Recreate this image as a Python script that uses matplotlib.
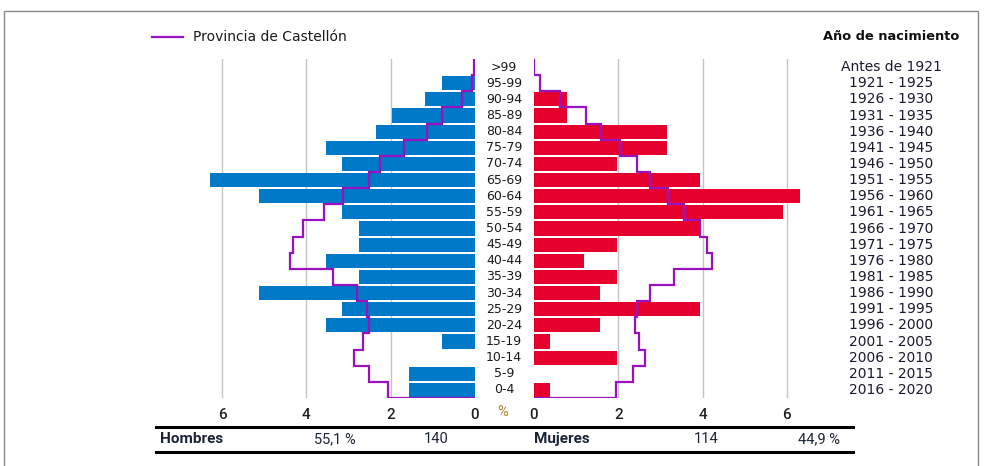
import matplotlib
matplotlib.use('Agg')
import matplotlib.pyplot as plt
from matplotlib.transforms import blended_transform_factory
from matplotlib.patches import Rectangle
from matplotlib.lines import Line2D

# Age groups, top to bottom
ages = ['>99', '95-99', '90-94', '85-89', '80-84', '75-79', '70-74', '65-69',
        '60-64', '55-59', '50-54', '45-49', '40-44', '35-39', '30-34', '25-29',
        '20-24', '15-19', '10-14', '5-9', '0-4']
births = ['Antes de 1921', '1921 - 1925', '1926 - 1930', '1931 - 1935', '1936 - 1940',
          '1941 - 1945', '1946 - 1950', '1951 - 1955', '1956 - 1960', '1961 - 1965',
          '1966 - 1970', '1971 - 1975', '1976 - 1980', '1981 - 1985', '1986 - 1990',
          '1991 - 1995', '1996 - 2000', '2001 - 2005', '2006 - 2010', '2011 - 2015',
          '2016 - 2020']

# % of total population (municipality)
hombres = [0, 0.79, 1.18, 1.97, 2.36, 3.54, 3.15, 6.30, 5.12, 3.15, 2.76, 2.76,
           3.54, 2.76, 5.12, 3.15, 3.54, 0.79, 0, 1.57, 1.57]
mujeres = [0, 0, 0.79, 0.79, 3.15, 3.15, 1.97, 3.94, 6.30, 5.91, 3.94, 1.97,
           1.18, 1.97, 1.57, 3.94, 1.57, 0.39, 1.97, 0, 0.39]

# Provincia de Castellón (%)
prov_h = [0.02, 0.06, 0.30, 0.79, 1.14, 1.69, 2.25, 2.52, 3.14, 3.59, 4.07, 4.33,
          4.39, 3.36, 2.79, 2.57, 2.52, 2.65, 2.88, 2.52, 2.06]
prov_m = [0.01, 0.15, 0.61, 1.24, 1.58, 2.05, 2.44, 2.76, 3.19, 3.56, 3.95, 4.10,
          4.22, 3.33, 2.76, 2.44, 2.40, 2.49, 2.64, 2.36, 1.95]

ticks = [0, 2, 4, 6]
total_h, total_m = 140, 114
pct_h, pct_m = '55,1 %', '44,9 %'

BLUE = '#0079c8'
RED = '#e6002d'
PURPLE = '#9a12bf'
GRID = '#c4c4c4'
TXT = '#1b2436'

W, H = 984, 466
fig = plt.figure(figsize=(W / 100, H / 100), dpi=100)


def fx(px):
    return px / W


def fy(py):
    return 1 - py / H


top, bottom = 59, 398
ax_h = fig.add_axes([fx(180), fy(bottom), fx(475) - fx(180), fy(top) - fy(bottom)])
ax_m = fig.add_axes([fx(534), fy(bottom), fx(829) - fx(534), fy(top) - fy(bottom)])

n = len(ages)
ypos = list(range(n - 1, -1, -1))  # top row gets highest index


def step_line(vals):
    xs, ys = [vals[0]], [n - 0.5]
    for v, y in zip(vals, ypos):
        xs += [v, v]
        ys += [y + 0.5, y - 0.5]
    xs.append(0)
    ys.append(-0.5)
    return xs, ys


for ax, vals, prov, color in [(ax_h, hombres, prov_h, BLUE), (ax_m, mujeres, prov_m, RED)]:
    for t in ticks[1:]:
        ax.axvline(t, color=GRID, lw=1, zorder=0)
    ax.barh(ypos, vals, height=0.88, color=color, zorder=2)
    xs, ys = step_line(prov)
    ax.plot(xs, ys, color=PURPLE, lw=1.6, zorder=3, solid_joinstyle='miter')
    ax.set_ylim(-0.5, n - 0.5)
    ax.set_yticks([])
    for s in ax.spines.values():
        s.set_visible(False)
    ax.set_xticks(ticks)
    ax.set_xticklabels([str(t) for t in ticks], fontsize=11, family='Roboto',
                       fontweight='medium', color='#222222')
    ax.tick_params(axis='x', length=0, pad=7)

ax_h.set_xlim(7, 0)
ax_m.set_xlim(0, 7)

# Age labels in the middle and birth years on the right
tr = blended_transform_factory(fig.transFigure, ax_h.transData)
for a, b, y in zip(ages, births, ypos):
    fig.text(fx(504), 0, a, transform=tr, ha='center', va='center', fontsize=9,
             color='#1a1a1a').set_y(y)
    fig.text(fx(891), 0, b, transform=tr, ha='center', va='center', fontsize=10,
             color='#1a1a2e').set_y(y)

fig.text(fx(503), fy(412), '%', ha='center', va='center', fontsize=10.5,
         family='Roboto', color='#b8862e')

# Header
fig.add_artist(Line2D([fx(152), fx(183)], [fy(37), fy(37)], color=PURPLE, lw=1.6))
fig.text(fx(193), fy(37), 'Provincia de Castellón', ha='left', va='center',
         fontsize=10, color='#1a1a1a')
fig.text(fx(891), fy(37), 'Año de nacimiento', ha='center', va='center',
         fontsize=9.4, fontweight='bold', color='#111111')

# Totals table
for py in (427, 452):
    fig.add_artist(Line2D([fx(156), fx(853)], [fy(py), fy(py)], color='black', lw=2.2))
yt = fy(439)
fig.text(fx(160), yt, 'Hombres', ha='left', va='center', fontsize=11,
         family='Roboto', fontweight='bold', color=TXT)
fig.text(fx(356), yt, pct_h, ha='right', va='center', fontsize=10.5, family='Roboto', color=TXT)
fig.text(fx(449), yt, str(total_h), ha='right', va='center', fontsize=10.5, family='Roboto', color=TXT)
fig.text(fx(534), yt, 'Mujeres', ha='left', va='center', fontsize=11,
         family='Roboto', fontweight='bold', color=TXT)
fig.text(fx(719), yt, str(total_m), ha='right', va='center', fontsize=10.5, family='Roboto', color=TXT)
fig.text(fx(840), yt, pct_m, ha='right', va='center', fontsize=10.5, family='Roboto', color=TXT)

# Outer frame
fig.add_artist(Rectangle((fx(4), fy(470)), fx(978) - fx(4), fy(11) - fy(470),
                         fill=False, edgecolor='#8a8a8a', lw=1, transform=fig.transFigure))

fig.savefig('out.png', dpi=100)
